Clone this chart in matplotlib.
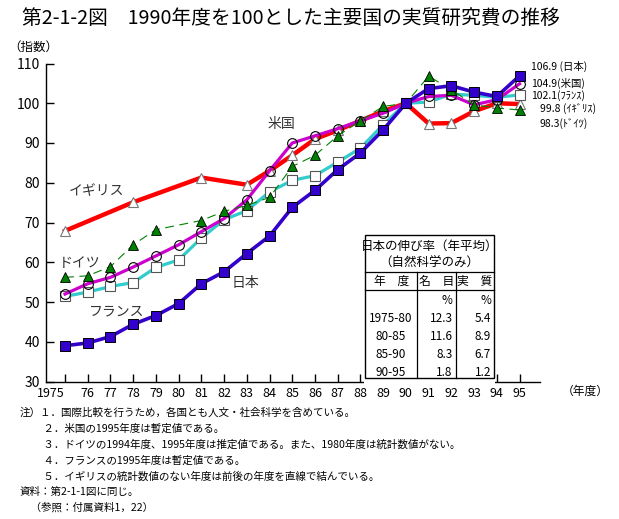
import matplotlib
matplotlib.use("Agg")
import matplotlib.pyplot as plt
from matplotlib.patches import Rectangle
from matplotlib.lines import Line2D

plt.rcParams['font.family'] = ['Noto Sans CJK JP', 'DejaVu Sans']

# -------------------------
# Data
# -------------------------
years = list(range(1975, 1996))

japan = [39.0, 39.7, 41.3, 44.4, 46.6, 49.6, 54.6, 57.6, 62.2, 66.6, 73.8,
         78.1, 83.3, 87.5, 93.3, 100.0, 103.7, 104.4, 102.8, 101.7, 106.9]
usa = [52.0, 54.6, 56.2, 58.8, 61.6, 64.4, 67.7, 71.0, 75.7, 83.0, 90.0,
       91.8, 93.6, 95.6, 97.5, 100.0, 101.7, 102.0, 99.6, 100.9, 104.9]
france = [51.4, 52.5, 53.9, 54.9, 58.7, 60.6, 66.1, 70.7, 73.0, 77.7, 80.6,
          81.8, 85.2, 88.7, 94.6, 100.0, 100.3, 102.3, 102.0, 101.5, 102.1]

uk_years = [1975, 1978, 1981, 1983, 1984, 1985, 1986, 1987, 1988, 1989,
            1990, 1991, 1992, 1993, 1994, 1995]
uk = [67.9, 75.1, 81.3, 79.5, 83.0, 86.9, 91.0, 93.2, 95.6, 98.0,
      100.0, 94.9, 95.0, 98.0, 100.0, 99.8]

de_years = [1975, 1976, 1977, 1978, 1979, 1981, 1982, 1983, 1984, 1985,
            1986, 1987, 1988, 1989, 1990, 1991, 1992, 1993, 1994, 1995]
germany = [56.2, 56.6, 58.9, 64.4, 68.2, 70.5, 72.8, 74.3, 76.3, 84.1,
           86.9, 91.8, 95.6, 99.2, 100.0, 106.8, 103.4, 99.6, 98.8, 98.3]

xtick_labels = ["1975"] + [str(y % 100) for y in years[1:]]
yticks = list(range(30, 111, 10))

end_labels = ["106.9 (日本)", "104.9(米国)", "102.1(ﾌﾗﾝｽ)", "99.8 (ｲｷﾞﾘｽ)", "98.3(ﾄﾞｲﾂ)"]

table_rows = [("1975-80", "12.3", "5.4"), ("80-85", "11.6", "8.9"),
              ("85-90", "8.3", "6.7"), ("90-95", "1.8", "1.2")]

notes = [
    "注）１．国際比較を行うため，各国とも人文・社会科学を含めている。",
    "　　 ２．米国の1995年度は暫定値である。",
    "　　 ３．ドイツの1994年度、1995年度は推定値である。また、1980年度は統計数値がない。",
    "　　 ４．フランスの1995年度は暫定値である。",
    "　　 ５．イギリスの統計数値のない年度は前後の年度を直線で結んでいる。",
    "資料：第2-1-1図に同じ。",
    "　（参照：付属資料1，22）",
]

W, H = 619, 519


def px(x, y):
    return x / W, 1 - y / H


fig = plt.figure(figsize=(W / 100, H / 100), dpi=100)
ax = fig.add_axes([45.7 / W, 1 - 381.5 / H, (540 - 45.7) / W, (381.5 - 63.5) / H])

# lines
ax.plot(uk_years, uk, color="#ff0000", lw=3.2, zorder=3,
        marker="^", ms=7, mfc="white", mec="#777777", mew=0.8)
ax.plot(years, france, color="#33cccc", lw=2.3, zorder=4,
        marker="s", ms=6.5, mfc="white", mec="#555555", mew=0.8)
ax.plot(years, usa, color="#cc00cc", lw=2.3, zorder=5,
        marker="o", ms=7, mfc="none", mec="black", mew=0.8)
ax.plot(de_years, germany, color="#008000", lw=0.8, ls=(0, (8, 5)), zorder=6,
        marker="^", ms=7, mfc="#008000", mec="black", mew=0.6)
ax.plot(years, japan, color="#3300cc", lw=2.6, zorder=7,
        marker="s", ms=7, mfc="#3300cc", mec="black", mew=0.7)

ax.set_xlim(1974.15, 1995.9)
ax.set_ylim(30, 110)
ax.set_xticks(years)
ax.set_xticklabels(xtick_labels, fontsize=9)
ax.set_yticks(yticks)
ax.set_yticklabels([str(v) for v in yticks], fontsize=10)
ax.tick_params(direction="in", length=6, width=1, pad=4)
ax.get_xticklabels()[0].set_ha("right")
for s in ["top", "right"]:
    ax.spines[s].set_visible(False)
for s in ["left", "bottom"]:
    ax.spines[s].set_linewidth(1)

# series names
lab = dict(fontsize=10, color="#333333", ha="center", va="center")
fig.text(*px(281, 124), "米国", **lab)
fig.text(*px(97, 191), "イギリス", **lab)
fig.text(*px(80, 263), "ドイツ", **lab)
fig.text(*px(117, 311), "フランス", **lab)
fig.text(*px(245, 283), "日本", **lab)

# end labels
end_pos = [(531, 66), (531, 83), (531, 96), (540, 110), (540, 124)]
for (x, y), t in zip(end_pos, end_labels):
    fig.text(*px(x, y), t, fontsize=7.5, ha="left", va="center")

# title and unit
fig.text(*px(22, 18), "第2-1-2図　1990年度を100とした主要国の実質研究費の推移",
         fontsize=14.2, ha="left", va="center")
fig.text(*px(8, 47), "（指数）", fontsize=9, ha="left", va="center")
fig.text(*px(562, 391), "（年度）", fontsize=8.5, ha="left", va="center")

# table of growth rates
x0, x1, y0, y1 = 365, 494, 235, 378
fig.patches.append(Rectangle(px(x0 - 1, 384), (x1 - x0 + 2) / W, (384 - y0) / H,
                             transform=fig.transFigure, facecolor="white",
                             edgecolor="none", zorder=10))
fig.patches.append(Rectangle(px(x0, y1), (x1 - x0) / W, (y1 - y0) / H,
                             transform=fig.transFigure, facecolor="none",
                             edgecolor="black", lw=1, zorder=11))
c1, c2 = 417.3, 455.7
for yy in [271.7, 290]:
    fig.lines.append(Line2D([x0 / W, x1 / W], [1 - yy / H] * 2, color="black",
                            lw=0.9, transform=fig.transFigure, zorder=11))
for xx in [c1, c2]:
    fig.lines.append(Line2D([xx / W] * 2, [1 - 271.7 / H, 1 - y1 / H], color="black",
                            lw=0.9, transform=fig.transFigure, zorder=11))

tk = dict(fontsize=8.5, va="center", zorder=12)
fig.text(*px((x0 + x1) / 2, 246), "日本の伸び率（年平均）", ha="center",
         fontsize=9, va="center", zorder=12)
fig.text(*px((x0 + x1) / 2, 263), "（自然科学のみ）", ha="center",
         fontsize=9, va="center", zorder=12)
fig.text(*px((x0 + c1) / 2, 281), "年　度", ha="center", **tk)
fig.text(*px((c1 + c2) / 2, 281), "名　目", ha="center", **tk)
fig.text(*px((c2 + x1) / 2, 281), "実　質", ha="center", **tk)
fig.text(*px(c2 - 3, 300), "%", ha="right", **tk)
fig.text(*px(x1 - 3, 300), "%", ha="right", **tk)
for i, (a, b, c) in enumerate(table_rows):
    yy = 318 + i * 18
    fig.text(*px((x0 + c1) / 2, yy), a, ha="center", **tk)
    fig.text(*px(c2 - 3, yy), b, ha="right", **tk)
    fig.text(*px(x1 - 3, yy), c, ha="right", **tk)

# notes
for i, t in enumerate(notes):
    fig.text(*px(20, 413 + i * 15.8), t, fontsize=7.6, ha="left", va="center")

fig.savefig("out.png", dpi=100)
